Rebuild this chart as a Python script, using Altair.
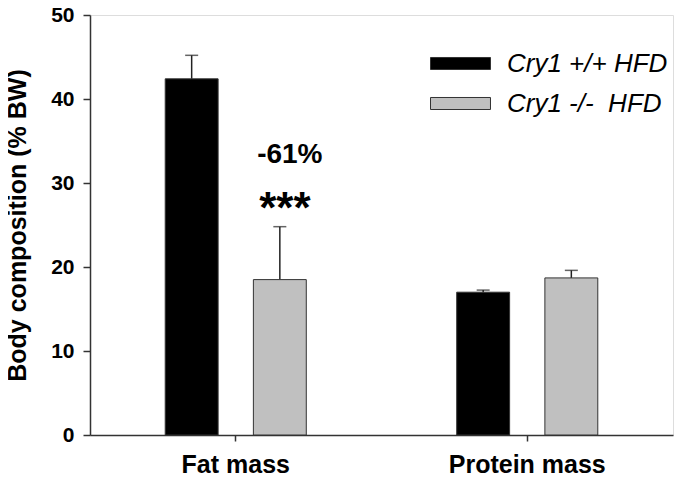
import altair as alt
import pandas as pd

groups = ["Fat mass", "Fat mass", "Protein mass", "Protein mass"]
genotypes = ["Cry1 +/+ HFD", "Cry1 -/-\u00a0 HFD", "Cry1 +/+ HFD", "Cry1 -/-\u00a0 HFD"]
means = [42.4, 18.5, 17.0, 18.7]
err_tops = [45.2, 24.8, 17.25, 19.6]

pct_text = ["-61%"]
pct_y = [32.4]
star_text = ["***"]
star_y = [25.2]
ann_group = ["Fat mass"]
ann_geno = ["Cry1 -/-\u00a0 HFD"]

geno_order = ["Cry1 +/+ HFD", "Cry1 -/-\u00a0 HFD"]
geno_colors = ["#000000", "#c0c0c0"]
group_order = ["Fat mass", "Protein mass"]

df = pd.DataFrame({"group": groups, "geno": genotypes, "mean": means, "err": err_tops})
pct = pd.DataFrame({"text": pct_text, "group": ann_group, "geno": ann_geno, "y": pct_y})
star = pd.DataFrame({"text": star_text, "group": ann_group, "geno": ann_geno, "y": star_y})

FONT = "Liberation Sans"

x_enc = alt.X("group:N", title=None, sort=group_order,
              scale=alt.Scale(paddingInner=0.516, paddingOuter=0.258),
              axis=alt.Axis(labelAngle=0, labelAlign="center", labelBaseline="top",
                            labelFont=FONT, labelFontSize=25,
                            labelFontWeight="bold", labelColor="#000",
                            labelPadding=11, tickSize=6, tickColor="#333",
                            tickWidth=1.5, domainColor="#333", domainWidth=1.5))
xo_enc = alt.XOffset("geno:N", sort=geno_order,
                     scale=alt.Scale(paddingInner=0.4, paddingOuter=0))
y_scale = alt.Scale(domain=[0, 50], nice=False)

bars = alt.Chart(df).mark_bar(stroke="#333", strokeWidth=1).encode(
    x=x_enc,
    xOffset=xo_enc,
    y=alt.Y("mean:Q", scale=y_scale, title="Body composition (% BW)",
            axis=alt.Axis(values=[0, 10, 20, 30, 40, 50], grid=False,
                          labelFont=FONT, labelFontSize=21, labelFontWeight="bold",
                          labelColor="#000", labelPadding=9, tickSize=7,
                          tickColor="#333", tickWidth=1.5, domainColor="#333",
                          domainWidth=1.5, titleFont=FONT, titleFontSize=25,
                          titleFontWeight="bold", titleColor="#000",
                          titlePadding=20)),
    fill=alt.Fill("geno:N", sort=geno_order,
                  scale=alt.Scale(domain=geno_order, range=geno_colors),
                  legend=alt.Legend(title=None, orient="none", legendX=344, legendY=22,
                                    symbolType="M-1.1538,-0.2308H1.1538V0.2308H-1.1538Z",
                                    symbolSize=2704,
                                    symbolStrokeColor="#333", symbolStrokeWidth=1,
                                    labelFont=FONT, labelFontSize=26,
                                    labelFontStyle="italic", labelColor="#000",
                                    labelLimit=400,
                                    labelOffset=20, rowPadding=0, padding=0)),
)

rules = alt.Chart(df).mark_rule(color="#222", strokeWidth=1.5).encode(
    x=alt.X("group:N", sort=group_order),
    xOffset=alt.XOffset("geno:N", sort=geno_order),
    y=alt.Y("mean:Q"),
    y2="err:Q",
)
caps = alt.Chart(df).mark_tick(color="#222", thickness=1.5, size=13).encode(
    x=alt.X("group:N", sort=group_order),
    xOffset=alt.XOffset("geno:N", sort=geno_order),
    y=alt.Y("err:Q"),
)

pct_layer = alt.Chart(pct).mark_text(font=FONT, fontWeight="bold", baseline="alphabetic",
                                     color="#000", fontSize=28, dx=10).encode(
    x=alt.X("group:N", sort=group_order),
    xOffset=alt.XOffset("geno:N", sort=geno_order),
    y=alt.Y("y:Q"),
    text="text:N",
)
star_layer = alt.Chart(star).mark_text(font=FONT, fontWeight="bold", baseline="alphabetic",
                                       color="#000", fontSize=44, dx=5).encode(
    x=alt.X("group:N", sort=group_order),
    xOffset=alt.XOffset("geno:N", sort=geno_order),
    y=alt.Y("y:Q"),
    text="text:N",
)

chart = alt.layer(rules, caps, bars, pct_layer, star_layer).properties(
    width=583, height=420,
    padding={"left": 82, "top": 7, "right": 2, "bottom": 42},
    autosize=alt.AutoSizeParams(type="none"),
).configure_view(stroke=None).configure(background="white")

chart.save("out.html", embed_options={"renderer": "svg", "actions": False})
